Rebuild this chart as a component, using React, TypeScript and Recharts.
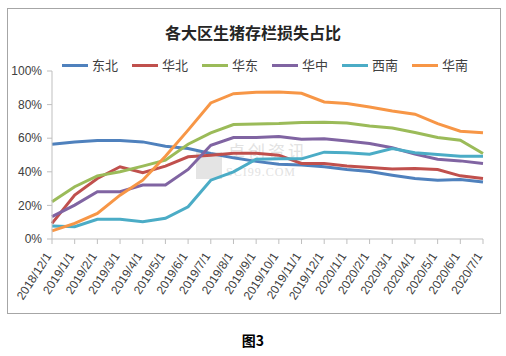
import { LineChart, Line, XAxis, YAxis } from 'recharts'

const months = [
  '2018/12/1', '2019/1/1', '2019/2/1', '2019/3/1', '2019/4/1', '2019/5/1', '2019/6/1',
  '2019/7/1', '2019/8/1', '2019/9/1', '2019/10/1', '2019/11/1', '2019/12/1', '2020/1/1',
  '2020/2/1', '2020/3/1', '2020/4/1', '2020/5/1', '2020/6/1', '2020/7/1',
]

const dongbei = [56.4, 57.8, 58.6, 58.6, 57.8, 55.2, 53.9, 50.9, 48.3, 46.2, 44.5, 44.0, 43.0, 41.4, 40.2, 38.0, 36.0, 34.9, 35.4, 33.9]
const huabei = [9.3, 26.1, 36.0, 43.0, 39.4, 43.4, 48.9, 49.9, 51.0, 51.0, 49.9, 45.0, 45.0, 43.4, 42.6, 41.6, 42.0, 41.4, 37.6, 36.0]
const huadong = [22.2, 31.1, 37.6, 40.0, 43.4, 46.9, 56.4, 63.2, 68.1, 68.5, 68.7, 69.3, 69.5, 69.1, 67.3, 66.1, 63.4, 60.4, 58.8, 50.9]
const huazhong = [13.3, 20.2, 28.1, 28.1, 32.1, 32.1, 41.4, 55.8, 60.4, 60.4, 61.0, 59.4, 59.6, 58.4, 56.8, 54.3, 50.5, 47.5, 46.5, 45.0]
const xinan = [7.7, 7.3, 11.7, 11.7, 10.3, 12.3, 19.2, 35.0, 40.0, 47.5, 47.7, 47.7, 51.7, 51.3, 50.5, 53.9, 51.3, 50.3, 49.3, 49.3]
const huanan = [4.8, 9.3, 15.2, 26.1, 35.0, 49.3, 64.8, 81.0, 86.5, 87.3, 87.5, 86.7, 81.6, 80.6, 78.6, 76.2, 74.3, 68.7, 64.2, 63.2]

const yTicks = [0, 20, 40, 60, 80, 100]

const series = [
  { key: '东北', values: dongbei, color: '#4F81BD' },
  { key: '华北', values: huabei, color: '#C0504D' },
  { key: '华东', values: huadong, color: '#9BBB59' },
  { key: '华中', values: huazhong, color: '#8064A2' },
  { key: '西南', values: xinan, color: '#4BACC6' },
  { key: '华南', values: huanan, color: '#F79646' },
]

const data = months.map((m, i) => {
  const row: Record<string, string | number> = { month: m }
  series.forEach(s => { row[s.key] = s.values[i] })
  return row
})

const font = '"Liberation Sans", Arial, sans-serif'
const cjk = '"Noto Sans CJK SC", sans-serif'

function MonthTick({ x, y, payload }: any) {
  return (
    <text
      x={x}
      y={y + 10}
      transform={`rotate(-57, ${x}, ${y + 10})`}
      textAnchor="end"
      fontSize={12}
      fontFamily={font}
      fill="#404040"
    >
      {payload.value}
    </text>
  )
}

// legend sits above the plot, done by hand so it doesn't push the plot down
function LegendRow() {
  return (
    <div style={{ position: 'absolute', left: 62, top: 56, display: 'flex' }}>
      {series.map(s => (
        <div key={s.key} style={{ display: 'flex', alignItems: 'center', width: 70 }}>
          <span style={{ display: 'inline-block', width: 26, height: 3, background: s.color, marginRight: 4 }} />
          <span style={{ fontSize: 13, fontFamily: cjk, color: '#404040', lineHeight: '18px' }}>{s.key}</span>
        </div>
      ))}
    </div>
  )
}

export default function App() {
  return (
    <div style={{ position: 'absolute', left: 0, top: 0, width: 506, height: 356, background: '#fff' }}>
      <div style={{ position: 'absolute', left: 7, top: 8, width: 492, height: 304, border: '1px solid #a6a6a6' }} />
      <div style={{ position: 'absolute', left: 0, top: 20, width: 506, textAlign: 'center', fontFamily: cjk, fontWeight: 700, fontSize: 16, color: '#262626' }}>
        各大区生猪存栏损失占比
      </div>
      {/* faint watermark */}
      <div style={{ position: 'absolute', left: 196, top: 152, width: 26, height: 27, background: '#e4e4e4' }} />
      <div style={{ position: 'absolute', left: 228, top: 141, fontFamily: cjk, fontSize: 17, lineHeight: '19px', letterSpacing: 3, color: '#e2e2e2' }}>
        卓创资讯
      </div>
      <div style={{ position: 'absolute', left: 226, top: 166, fontFamily: 'serif', fontSize: 12, lineHeight: '12px', letterSpacing: 1, color: '#e2e2e2' }}>
        SCI99.COM
      </div>
      <LegendRow />
      <div style={{ position: 'absolute', left: 0, top: 0 }}>
        <LineChart width={506} height={320} data={data} margin={{ top: 71, right: 23, left: 5, bottom: 11 }}>
          <XAxis
            dataKey="month"
            interval={0}
            height={70}
            tick={<MonthTick />}
            tickSize={5}
            stroke="#bfbfbf"
          />
          <YAxis
            width={47}
            domain={[0, 100]}
            ticks={yTicks}
            tickFormatter={v => `${v}%`}
            tickSize={5}
            tickMargin={5}
            stroke="#bfbfbf"
            tick={{ fontSize: 12, fontFamily: font, fill: '#404040' }}
          />
          {series.map(s => (
            <Line
              key={s.key}
              type="linear"
              dataKey={s.key}
              stroke={s.color}
              strokeWidth={3}
              dot={false}
              isAnimationActive={false}
            />
          ))}
        </LineChart>
      </div>
      <div style={{ position: 'absolute', left: 0, top: 330, width: 506, textAlign: 'center', fontFamily: cjk, fontWeight: 700, fontSize: 14, color: '#000' }}>
        图3
      </div>
    </div>
  )
}
